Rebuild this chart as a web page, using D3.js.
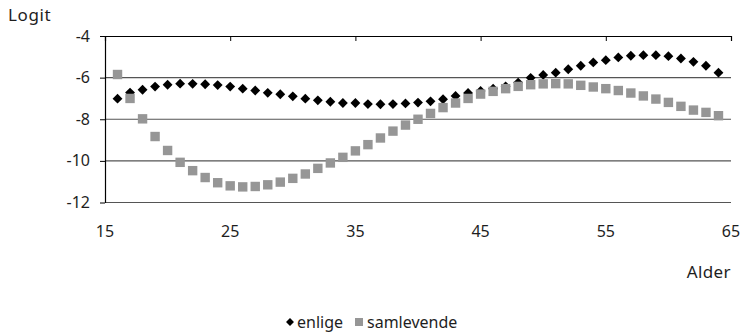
<!DOCTYPE html>
<html><head><meta charset="utf-8">
<script src="https://cdn.jsdelivr.net/npm/d3@7"></script>
<style>body{margin:0;background:#fff}text{font-family:"Noto Sans",sans-serif;fill:#1e1e1e}</style>
</head><body><svg id="c" width="743" height="334"></svg>
<script>
const ages = d3.range(16, 65);
const enlige = [-7.01,-6.72,-6.58,-6.43,-6.34,-6.29,-6.30,-6.32,-6.36,-6.43,-6.53,-6.62,-6.73,-6.80,-6.90,-7.01,-7.09,-7.16,-7.22,-7.22,-7.27,-7.28,-7.27,-7.24,-7.20,-7.14,-7.04,-6.88,-6.74,-6.64,-6.53,-6.42,-6.24,-6.01,-5.87,-5.76,-5.60,-5.43,-5.27,-5.16,-5.03,-4.95,-4.92,-4.92,-4.97,-5.08,-5.24,-5.43,-5.76];
const samlevende = [-5.85,-7.00,-7.98,-8.83,-9.50,-10.07,-10.47,-10.80,-11.05,-11.20,-11.25,-11.23,-11.15,-11.02,-10.84,-10.63,-10.36,-10.10,-9.83,-9.52,-9.22,-8.90,-8.57,-8.28,-8.00,-7.72,-7.44,-7.22,-7.00,-6.79,-6.66,-6.53,-6.42,-6.34,-6.30,-6.29,-6.30,-6.37,-6.45,-6.53,-6.62,-6.74,-6.88,-7.03,-7.19,-7.38,-7.56,-7.67,-7.83];
const xTicks = [15,25,35,45,55,65];
const yTicks = [-4,-6,-8,-10,-12];
const seriesNames = ["enlige","samlevende"];

const FS = 16;
const svg = d3.select("#c");
const x = d3.scaleLinear().domain([15,65]).range([105,731]);
const y = d3.scaleLinear().domain([-12,-4]).range([202.5,36]);

// gridlines
svg.append("g").selectAll("line").data(yTicks.filter(d=>d!==-4)).join("line")
  .attr("x1",105).attr("x2",731).attr("y1",d=>y(d)).attr("y2",d=>y(d))
  .attr("stroke","#555").attr("stroke-width",1.2);

// top axis (x axis at -4) with inward ticks
const xa = svg.append("g").attr("transform",`translate(0,${y(-4)})`)
  .call(d3.axisBottom(x).tickValues(xTicks).tickSize(5).tickFormat(""));
xa.select(".domain").attr("stroke","#000").attr("stroke-width",1.2);
xa.selectAll("line").attr("stroke","#000");

// left axis
const ya = svg.append("g").attr("transform","translate(105,0)")
  .call(d3.axisLeft(y).tickValues(yTicks).tickSize(5).tickSizeOuter(0).tickFormat(""));
ya.select(".domain").attr("stroke","#000").attr("stroke-width",1.2);
ya.selectAll("line").attr("stroke","#000");

// y labels
svg.append("g").selectAll("text").data(yTicks).join("text")
  .attr("x",90).attr("y",d=>y(d)+5.5).attr("text-anchor","end")
  .attr("font-size",FS).text(d=>d);
// x labels
svg.append("g").selectAll("text").data(xTicks).join("text")
  .attr("x",d=>x(d)).attr("y",237).attr("text-anchor","middle")
  .attr("font-size",FS).text(d=>d);

svg.append("text").attr("x",8).attr("y",21).attr("font-size",17).attr("letter-spacing",0.6).text("Logit");
svg.append("text").attr("x",731).attr("y",278).attr("text-anchor","end").attr("font-size",17).attr("letter-spacing",0.4).text("Alder");

// series
const diamond = d3.symbol().type(d3.symbolDiamond2).size(62);
svg.append("g").selectAll("path").data(enlige).join("path")
  .attr("d",diamond).attr("fill","#000")
  .attr("transform",(d,i)=>`translate(${x(ages[i])},${y(d)})`);
svg.append("g").selectAll("rect").data(samlevende).join("rect")
  .attr("x",(d,i)=>x(ages[i])-4.7).attr("y",d=>y(d)-4.7)
  .attr("width",9.4).attr("height",9.4).attr("fill","#969696");

// legend
const lg = svg.append("g");
lg.append("path").attr("d",d3.symbol().type(d3.symbolDiamond2).size(40)).attr("fill","#000")
  .attr("transform","translate(290,322)");
lg.append("text").attr("x",297).attr("y",327.5).attr("font-size",FS).text(seriesNames[0]);
lg.append("rect").attr("x",355).attr("y",318).attr("width",8).attr("height",8).attr("fill","#969696");
lg.append("text").attr("x",367).attr("y",327.5).attr("font-size",FS).text(seriesNames[1]);
</script></body></html>
